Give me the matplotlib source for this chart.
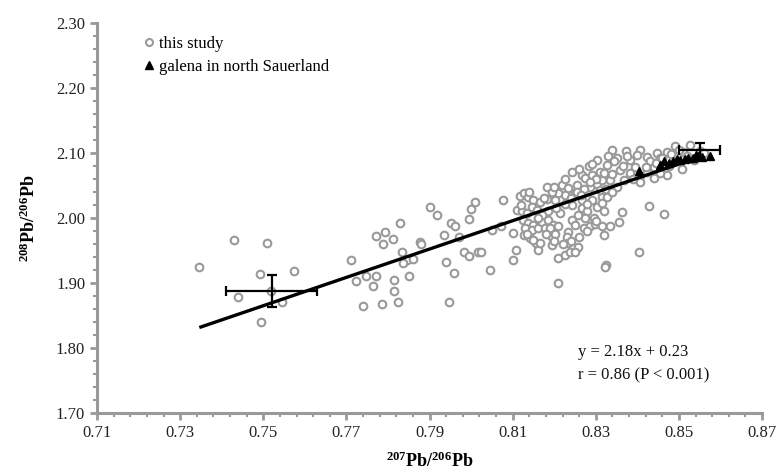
import matplotlib
matplotlib.use('Agg')
import numpy as np
import matplotlib.pyplot as plt
from matplotlib.ticker import FormatStrFormatter
from matplotlib.lines import Line2D

plt.rcParams['font.family'] = ['Liberation Serif', 'DejaVu Serif']
plt.rcParams['mathtext.fontset'] = 'custom'
plt.rcParams['mathtext.rm'] = 'Liberation Serif'
plt.rcParams['mathtext.bf'] = 'Liberation Serif:bold'

# this study: 207Pb/206Pb vs 208Pb/206Pb
study_x = [0.7345, 0.7430, 0.7509, 0.7492, 0.7575, 0.7519, 0.7440, 0.7546, 0.7495,
           0.7711, 0.7723, 0.7748, 0.7772, 0.7763, 0.7739, 0.7785, 0.7814, 0.7814, 0.7824,
           0.7851, 0.7771, 0.7794, 0.7787, 0.7811, 0.7829, 0.7835, 0.7845, 0.7836, 0.7861,
           0.7877, 0.7880, 0.7902, 0.7918, 0.7952, 0.7962, 0.7936, 0.7970, 0.7940, 0.7960,
           0.7947, 0.8010, 0.7999, 0.7995, 0.8077, 0.7982, 0.7994, 0.8016, 0.8023, 0.8045,
           0.8050, 0.8071, 0.8100, 0.8109, 0.8102, 0.8118, 0.8128, 0.8138, 0.8149, 0.8110,
           0.8122, 0.8134, 0.8146, 0.8158, 0.8126, 0.8138, 0.8150, 0.8130, 0.8128, 0.8142,
           0.8157, 0.8160, 0.8146, 0.8162, 0.8170, 0.8303, 0.8283, 0.8243, 0.8267, 0.8182,
           0.8219, 0.8234, 0.8255, 0.8275, 0.8291, 0.8311, 0.8303, 0.8315, 0.8287, 0.8271,
           0.8251, 0.8226, 0.8210, 0.8182, 0.8202, 0.8166, 0.8267, 0.8291, 0.8315, 0.8243,
           0.8267, 0.8279, 0.8303, 0.8315, 0.8258, 0.8275, 0.8295, 0.8186, 0.8198, 0.8210,
           0.8243, 0.8251, 0.8271, 0.8287, 0.8299, 0.8315, 0.8178, 0.8190, 0.8234, 0.8231,
           0.8234, 0.8194, 0.8194, 0.8166, 0.8258, 0.8210, 0.8226, 0.8238, 0.8251, 0.8210,
           0.8325, 0.8407, 0.8351, 0.8427, 0.8465, 0.8364, 0.8355, 0.8335, 0.8319, 0.8405,
           0.8323, 0.8471, 0.8507, 0.8491, 0.8527, 0.8447, 0.8471, 0.8423, 0.8383, 0.8395,
           0.8359, 0.8327, 0.8319, 0.8335, 0.8311, 0.8351, 0.8367, 0.8383, 0.8407, 0.8423,
           0.8439, 0.8455, 0.8439, 0.8407, 0.8327, 0.8214, 0.8202, 0.8150, 0.8134, 0.8373,
           0.8455, 0.8511, 0.8551, 0.8537, 0.8340,
           0.8195, 0.8225, 0.8260, 0.8290, 0.8330, 0.8345, 0.8375, 0.8400, 0.8430, 0.8445,
           0.8460, 0.8480, 0.8500, 0.8365, 0.8340, 0.8300, 0.8285, 0.8255, 0.8240, 0.8225,
           0.8205, 0.8185, 0.8170, 0.8160, 0.8175, 0.8200, 0.8265, 0.8280, 0.8325, 0.8340,
           0.8320, 0.8300, 0.8280, 0.8260, 0.8240, 0.8220, 0.8200, 0.8180, 0.8390, 0.8420,
           0.8475, 0.8520, 0.8560, 0.8120, 0.8140]
study_y = [1.925, 1.966, 1.962, 1.914, 1.919, 1.888, 1.879, 1.871, 1.840,
           1.935, 1.903, 1.911, 1.910, 1.895, 1.865, 1.868, 1.904, 1.887, 1.871,
           1.911, 1.973, 1.979, 1.960, 1.967, 1.992, 1.948, 1.935, 1.931, 1.937,
           1.963, 1.960, 2.017, 2.004, 1.992, 1.988, 1.974, 1.971, 1.933, 1.916,
           1.871, 2.025, 2.014, 1.999, 2.027, 1.947, 1.942, 1.948, 1.948, 1.920,
           1.981, 1.988, 1.977, 1.950, 1.936, 2.034, 2.039, 2.032, 2.028, 2.012,
           2.010, 2.007, 2.017, 2.012, 1.997, 1.992, 1.989, 1.984, 1.974, 1.969,
           1.961, 1.951, 1.982, 1.984, 1.994, 2.089, 2.080, 2.071, 2.066, 2.048,
           2.051, 2.046, 2.051, 2.061, 2.066, 2.071, 2.053, 2.058, 2.048, 2.044,
           2.038, 2.035, 2.038, 2.029, 2.028, 2.025, 2.028, 2.028, 2.033, 2.020,
           2.015, 2.010, 2.017, 2.023, 2.005, 2.000, 2.000, 1.997, 1.989, 1.987,
           1.997, 1.989, 1.984, 1.987, 1.991, 1.987, 1.984, 1.984, 1.979, 1.971,
           1.961, 1.971, 1.958, 1.961, 1.956, 1.938, 1.943, 1.948, 1.948, 1.900,
           1.928, 2.105, 2.093, 2.018, 2.006, 2.009, 1.994, 1.987, 1.974, 1.948,
           1.925, 2.066, 2.075, 2.110, 2.112, 2.100, 2.102, 2.094, 2.089, 2.079,
           2.074, 2.082, 2.069, 2.058, 2.043, 2.048, 2.058, 2.069, 2.064, 2.071,
           2.079, 2.069, 2.061, 2.056, 2.033, 2.007, 1.976, 1.966, 1.976, 2.103,
           2.092, 2.102, 2.103, 2.089, 2.105,
           2.040, 2.060, 2.075, 2.083, 2.095, 2.087, 2.095, 2.097, 2.088, 2.085,
           2.092, 2.098, 2.104, 2.080, 2.068, 2.060, 2.055, 2.040, 2.030, 2.022,
           2.015, 2.010, 2.005, 2.000, 2.030, 2.048, 2.035, 2.022, 2.045, 2.040,
           2.010, 1.995, 1.980, 1.970, 1.965, 1.960, 1.965, 1.975, 2.060, 2.078,
           2.080, 2.095, 2.100, 2.020, 2.040]

# galena in north Sauerland
galena_x = [0.8405, 0.8455, 0.8463, 0.8475, 0.8487, 0.8495, 0.8503, 0.8515, 0.8523,
            0.8535, 0.8540, 0.8547, 0.8555, 0.8575]
galena_y = [2.073, 2.082, 2.087, 2.084, 2.087, 2.091, 2.089, 2.090, 2.092,
            2.093, 2.097, 2.095, 2.094, 2.095]

# regression
slope = 2.18
intercept = 0.23
fit_x = [0.735, 0.855]
fit_y = [slope * v + intercept for v in fit_x]

# error bars (x, y, xerr, yerr)
err_x = [0.752, 0.855]
err_y = [1.888, 2.105]
err_xe = [0.011, 0.005]
err_ye = [0.025, 0.011]

grey = '#999999'

fig = plt.figure(figsize=(7.76, 4.76), dpi=100)
ax = fig.add_axes([0.125, 0.1324, 0.857, 0.8193])

ax.plot(study_x, study_y, 'o', mfc='white', mec=grey, mew=1.5, ms=5.5, ls='none', zorder=2)
ax.plot(fit_x, fit_y, color='black', lw=2.4, zorder=3)
ax.plot(galena_x, galena_y, '^', color='black', ms=6, ls='none', zorder=4)
ax.errorbar(err_x, err_y, xerr=err_xe, yerr=err_ye, fmt='none', ecolor='black',
            elinewidth=1.6, capsize=3.5, capthick=1.6, zorder=5)

ax.set_xlim(0.71, 0.87)
ax.set_ylim(1.70, 2.30)
ax.set_xticks(np.arange(0.71, 0.8701, 0.02))
ax.set_xticks(np.arange(0.71, 0.8701, 0.004), minor=True)
ax.set_yticks(np.arange(1.70, 2.3001, 0.1))
ax.set_yticks(np.arange(1.70, 2.3001, 0.02), minor=True)
ax.xaxis.set_major_formatter(FormatStrFormatter('%.2f'))
ax.yaxis.set_major_formatter(FormatStrFormatter('%.2f'))

for s in ['top', 'right']:
    ax.spines[s].set_visible(False)
for s in ['left', 'bottom']:
    ax.spines[s].set_color(grey)
    ax.spines[s].set_linewidth(2.2)
ax.tick_params(which='major', direction='out', length=5, width=2, color=grey,
               labelsize=12, labelcolor='#222222')
ax.tick_params(which='minor', direction='out', length=3, width=1.5, color=grey)

ax.set_xlabel(r'$\mathbf{^{207}Pb/^{206}Pb}$', fontsize=13, labelpad=8)
ax.set_ylabel(r'$\mathbf{^{208}Pb/^{206}Pb}$', fontsize=13, labelpad=12)

handles = [Line2D([], [], marker='o', mfc='white', mec=grey, mew=1.5, ms=5, ls='none'),
           Line2D([], [], marker='^', color='black', ms=6, ls='none')]
ax.legend(handles, ['this study', 'galena in north Sauerland'], loc='upper left',
          bbox_to_anchor=(0.06, 0.985), frameon=False, fontsize=12,
          handlelength=0.6, handletextpad=0.3, labelspacing=0.45, borderaxespad=0)

ax.text(0.723, 0.156, 'y = 2.18x + 0.23', transform=ax.transAxes, fontsize=12,
        va='center', ha='left', color='#111111')
ax.text(0.723, 0.097, 'r = 0.86 (P < 0.001)', transform=ax.transAxes, fontsize=12,
        va='center', ha='left', color='#111111')

fig.savefig('out.png', dpi=100)
